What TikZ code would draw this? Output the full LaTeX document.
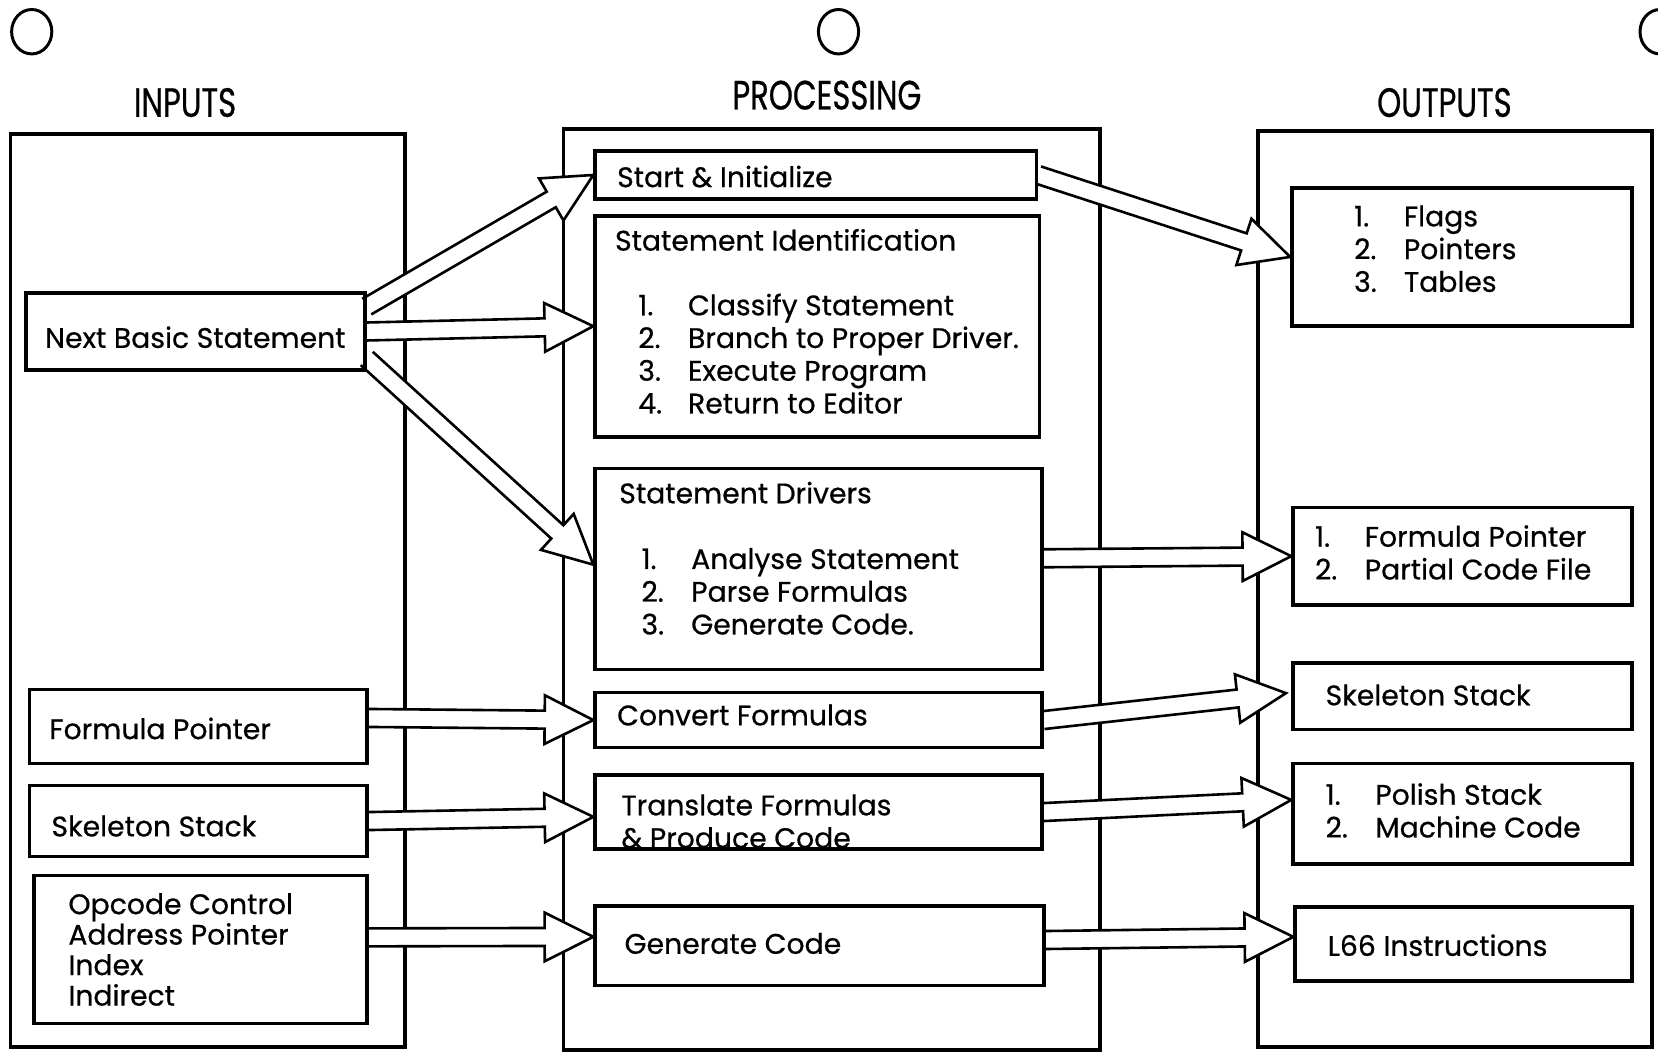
\documentclass[tikz,border=0pt]{standalone}
\usepackage{fontspec}
\setmainfont{Poppins}[FakeBold=0.6]
\newfontfamily\headfont[FakeStretch=0.75,FakeBold=0.6]{Poppins}
\usetikzlibrary{calc,backgrounds}

\tikzset{
  colbox/.style={draw, line width=1pt},
  blk/.style={draw, line width=1pt, inner sep=0pt},
  txt/.style={anchor=base west, inner sep=0pt, align=left, font=\fontsize{7.6}{8.8}\selectfont},
  hdr/.style={font=\headfont\fontsize{11}{12}\selectfont},
  hole/.style={draw, line width=0.8pt},
  fat/.style={draw, line width=0.7pt, fill=white, line join=miter,
    to path={($(\tikztostart)!.085cm!90:(\tikztotarget)$)
      -- ($(\tikztotarget)!.4678cm!-10.47:(\tikztostart)$)
      -- ($(\tikztotarget)!.5143cm!-26.57:(\tikztostart)$)
      -- (\tikztotarget)
      -- ($(\tikztotarget)!.5143cm!26.57:(\tikztostart)$)
      -- ($(\tikztotarget)!.4678cm!10.47:(\tikztostart)$)
      -- ($(\tikztostart)!.085cm!-90:(\tikztotarget)$)}}
}
\newcommand{\nm}[1]{\makebox[4.7mm][l]{#1}}

\begin{document}
\begin{tikzpicture}[x=0.01cm, y=-0.01cm]
  \useasboundingbox (0,0) rectangle (1568,997);

  % punch holes
  \draw[hole] (30,30) ellipse [x radius=.19cm, y radius=.21cm];
  \draw[hole] (793,30) ellipse [x radius=.19cm, y radius=.21cm];
  \draw[hole] (1570,30) ellipse [x radius=.19cm, y radius=.21cm];

  % column headings
  \node[hdr] (hin) at (175,97) {INPUTS};
  \node[hdr] (hproc) at (782,90) {PROCESSING};
  \node[hdr] (hout) at (1366,97) {OUTPUTS};

  % columns
  \begin{scope}[on background layer]
    \draw[colbox] (10,127) rectangle (383,990);
    \draw[colbox] (533,122) rectangle (1040,993);
    \draw[colbox] (1190,124) rectangle (1562,990);
  \end{scope}

  % inputs
  \node[blk, minimum width=3.2cm, minimum height=.73cm] (nbs) at (185,313.5) {};
  \node[blk, minimum width=3.19cm, minimum height=.70cm] (fpin) at (187.5,687) {};
  \node[blk, minimum width=3.19cm, minimum height=.67cm] (ssin) at (187.5,776.5) {};
  \node[blk, minimum width=3.15cm, minimum height=1.40cm] (opin) at (189.5,898) {};
  \node[txt] (nbst) at (42,329) {Next Basic Statement};
  \node[txt] (fpint) at (46,699) {Formula Pointer};
  \node[txt] (ssint) at (48,791) {Skeleton Stack};
  \node[txt, font=\fontsize{7.6}{8.2}\selectfont] (opint) at (64,951) {Opcode Control\\Address Pointer\\Index\\Indirect};

  % processing
  \node[blk, minimum width=4.17cm, minimum height=.45cm] (init) at (771.5,165.5) {};
  \node[blk, minimum width=4.20cm, minimum height=2.09cm] (sid) at (773,308.5) {};
  \node[blk, minimum width=4.22cm, minimum height=1.90cm] (sdr) at (774,538) {};
  \node[blk, minimum width=4.22cm, minimum height=.52cm] (conv) at (774,681) {};
  \node[blk, minimum width=4.22cm, minimum height=.70cm] (trans) at (774,768) {};
  \node[blk, minimum width=4.24cm, minimum height=.75cm] (gen) at (775,894.5) {};
  \node[txt] (initt) at (583,177) {Start \& Initialize};
  \node[txt] (sidt) at (581,237) {Statement Identification};
  \node[txt] (sidl) at (603,391) {\nm{1.}Classify Statement\\\nm{2.}Branch to Proper Driver.\\\nm{3.}Execute Program\\\nm{4.}Return to Editor};
  \node[txt] (sdrt) at (585,476) {Statement Drivers};
  \node[txt] (sdrl) at (606,600) {\nm{1.}Analyse Statement\\\nm{2.}Parse Formulas\\\nm{3.}Generate Code.};
  \node[txt] (convt) at (583,686) {Convert Formulas};
  \node[txt] (transt) at (587,802) {Translate Formulas\\\& Produce Code};
  \node[txt] (gent) at (590,902) {Generate Code};

  % outputs
  \node[blk, minimum width=3.21cm, minimum height=1.30cm] (flags) at (1382.5,243) {};
  \node[blk, minimum width=3.20cm, minimum height=.92cm] (fpout) at (1383,526) {};
  \node[blk, minimum width=3.20cm, minimum height=.63cm] (ssout) at (1383,658.5) {};
  \node[blk, minimum width=3.20cm, minimum height=.95cm] (polout) at (1383,769.5) {};
  \node[blk, minimum width=3.18cm, minimum height=.70cm] (l66) at (1384,893) {};
  \node[txt] (flagsl) at (1280,276) {\nm{1.}Flags\\\nm{2.}Pointers\\\nm{3.}Tables};
  \node[txt] (fpoutl) at (1243,548) {\nm{1.}Formula Pointer\\\nm{2.}Partial Code File};
  \node[txt] (ssoutt) at (1253,667) {Skeleton Stack};
  \node[txt] (poloutl) at (1253,792) {\nm{1.}Polish Stack\\\nm{2.}Machine Code};
  \node[txt] (l66t) at (1255,904) {L66 Instructions};

  % flow arrows
  \begin{scope}[on background layer]
    \draw[fat] ([yshift=.235cm]nbs.east) to (init.west);
    \draw[fat] (nbs.east) to (sid.west);
    \draw[fat] ([yshift=-.255cm]nbs.east) to ([yshift=.04cm]sdr.west);
    \draw[fat] (init.east) to (flags.west);
    \draw[fat] ([yshift=.10cm]sdr.east) to (fpout.west);
    \draw[fat] ([yshift=.08cm]fpin.east) to (conv.west);
    \draw[fat] (conv.east) to ([xshift=-.05cm, yshift=.03cm]ssout.west);
    \draw[fat] (ssin.east) to ([yshift=-.045cm]trans.west);
    \draw[fat] (trans.east) to ([yshift=.13cm]polout.west);
    \draw[fat] ([yshift=.115cm]opin.east) to ([yshift=.085cm]gen.west);
    \draw[fat] ([yshift=.055cm]gen.east) to ([yshift=.07cm]l66.west);
  \end{scope}
\end{tikzpicture}
\end{document}
